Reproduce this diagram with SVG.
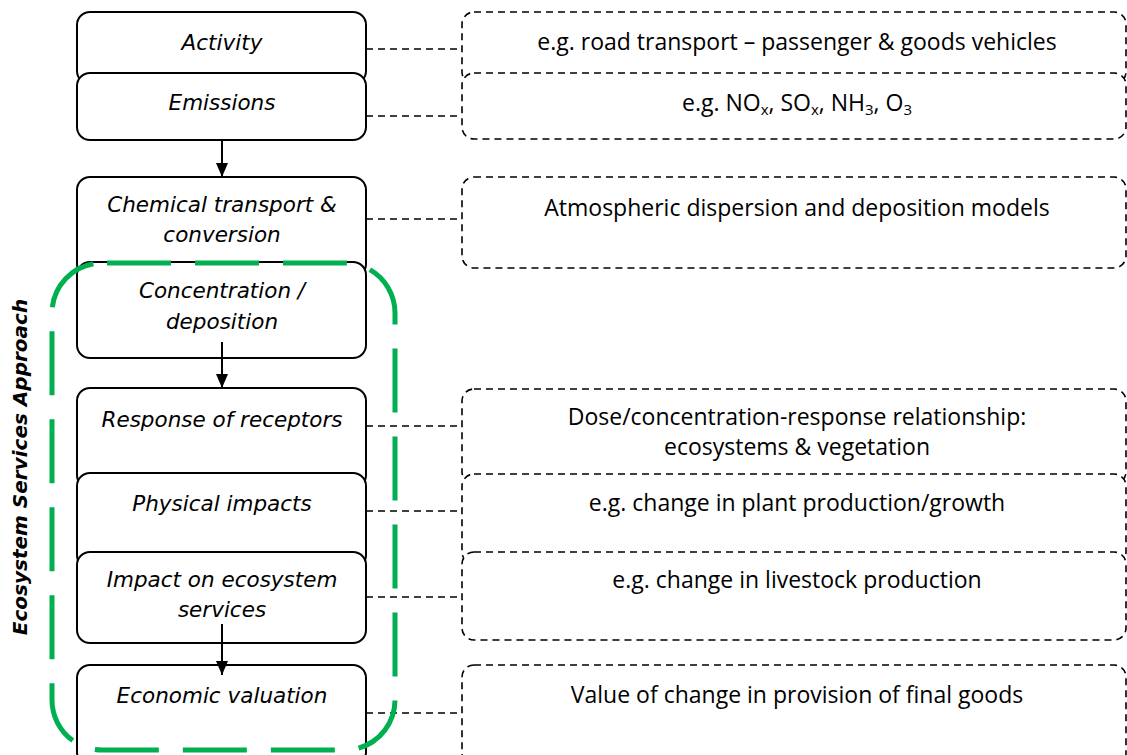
<svg xmlns="http://www.w3.org/2000/svg" width="1127" height="755" viewBox="0 0 1127 755">
<defs>
<style>
.lb{fill:#fff;stroke:#000;stroke-width:2}
.rb{fill:#fff;stroke:#000;stroke-width:1.6;stroke-dasharray:7 5}
.lt{font-family:"DejaVu Sans","Liberation Sans",sans-serif;font-style:italic;font-size:21.5px;fill:#000;text-anchor:middle}
.rt{font-family:"Open Sans","Liberation Sans",sans-serif;font-size:23px;fill:#000;text-anchor:middle}
.sub{font-size:15px}
.cn{fill:none;stroke:#000;stroke-width:1.6;stroke-dasharray:7 5}
.ar{fill:none;stroke:#000;stroke-width:2}
</style>
<marker id="ah" markerWidth="14" markerHeight="12" refX="14" refY="6" orient="auto" markerUnits="userSpaceOnUse">
<path d="M0,0 L14,6 L0,12 Z" fill="#000"/>
</marker>
</defs>
<rect width="1127" height="755" fill="#fff"/>

<g id="right-boxes">
<g id="r1"><rect class="rb" x="462" y="12" width="664" height="72" rx="12"/><text class="rt" x="797" y="50">e.g. road transport – passenger &amp; goods vehicles</text></g>
<g id="r2"><rect class="rb" x="462" y="73" width="664" height="66" rx="12"/><text class="rt" x="797" y="111">e.g. NO<tspan class="sub" dy="4">x</tspan><tspan dy="-4">, SO</tspan><tspan class="sub" dy="4">x</tspan><tspan dy="-4">, NH</tspan><tspan class="sub" dy="4">3</tspan><tspan dy="-4">, O</tspan><tspan class="sub" dy="4">3</tspan></text></g>
<g id="r3"><rect class="rb" x="462" y="177" width="664" height="91" rx="12"/><text class="rt" x="797" y="216">Atmospheric dispersion and deposition models</text></g>
<g id="r4"><rect class="rb" x="462" y="389" width="664" height="95" rx="12"/><text class="rt" x="797" y="425">Dose/concentration-response relationship:</text><text class="rt" x="797" y="455">ecosystems &amp; vegetation</text></g>
<g id="r5"><rect class="rb" x="462" y="474" width="664" height="90" rx="12"/><text class="rt" x="797" y="511">e.g. change in plant production/growth</text></g>
<g id="r6"><rect class="rb" x="462" y="552" width="664" height="88" rx="12"/><text class="rt" x="797" y="588">e.g. change in livestock production</text></g>
<g id="r7"><rect class="rb" x="462" y="665" width="664" height="100" rx="12"/><text class="rt" x="797" y="703">Value of change in provision of final goods</text></g>
</g>

<g id="left-boxes">
<g id="activity"><rect class="lb" x="77" y="12" width="289" height="72" rx="13"/><text class="lt" x="222" y="50">Activity</text></g>
<g id="emissions"><rect class="lb" x="77" y="73" width="289" height="67" rx="13"/><text class="lt" x="222" y="110">Emissions</text></g>
<g id="chemical"><rect class="lb" x="77" y="177" width="289" height="100" rx="13"/><text class="lt" x="222" y="212">Chemical transport &amp;</text><text class="lt" x="222" y="242">conversion</text></g>
<g id="concentration"><rect class="lb" x="77" y="262" width="289" height="96" rx="13"/><text class="lt" x="222" y="298">Concentration /</text><text class="lt" x="222" y="329">deposition</text></g>
<g id="response"><rect class="lb" x="77" y="388" width="289" height="100" rx="13"/><text class="lt" x="222" y="427">Response of receptors</text></g>
<g id="physical"><rect class="lb" x="77" y="473" width="289" height="95" rx="13"/><text class="lt" x="222" y="511">Physical impacts</text></g>
<g id="impact"><rect class="lb" x="77" y="552" width="289" height="91" rx="13"/><text class="lt" x="222" y="587">Impact on ecosystem</text><text class="lt" x="222" y="617">services</text></g>
<g id="economic"><rect class="lb" x="77" y="665" width="289" height="100" rx="13"/><text class="lt" x="222" y="703">Economic valuation</text></g>
</g>

<g id="connectors">
<line class="ar" x1="222" y1="140" x2="222" y2="177" marker-end="url(#ah)"/>
<line class="ar" x1="222" y1="342" x2="222" y2="388" marker-end="url(#ah)"/>
<line class="ar" x1="222" y1="624" x2="222" y2="675" marker-end="url(#ah)"/>
<line class="cn" x1="366" y1="49" x2="462" y2="49"/>
<line class="cn" x1="366" y1="116" x2="462" y2="116"/>
<line class="cn" x1="366" y1="219" x2="462" y2="219"/>
<line class="cn" x1="366" y1="426" x2="462" y2="426"/>
<line class="cn" x1="366" y1="511" x2="462" y2="511"/>
<line class="cn" x1="366" y1="597" x2="462" y2="597"/>
<line class="cn" x1="366" y1="713" x2="462" y2="713"/>
</g>

<g id="ecosystem-services-approach">
<rect x="52" y="263" width="343" height="487" rx="50" fill="none" stroke="#00B050" stroke-width="5" stroke-dasharray="64 24" stroke-dashoffset="83"/>
<text x="27" y="467" transform="rotate(-90 27 467)" font-family="DejaVu Sans, Liberation Sans, sans-serif" font-style="italic" font-weight="bold" font-size="20" text-anchor="middle">Ecosystem Services Approach</text>
</g>
</svg>
